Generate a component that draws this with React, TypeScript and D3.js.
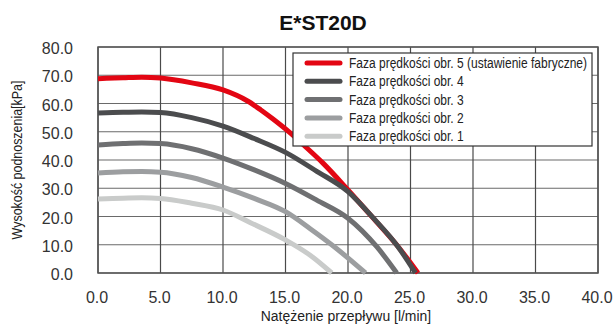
import React from "react";
import * as d3 from "d3";

const xTicks = [0, 5, 10, 15, 20, 25, 30, 35, 40];
const yTicks = [0, 10, 20, 30, 40, 50, 60, 70, 80];

const seriesNames = [
  "Faza prędkości obr. 5 (ustawienie fabryczne)",
  "Faza prędkości obr. 4",
  "Faza prędkości obr. 3",
  "Faza prędkości obr. 2",
  "Faza prędkości obr. 1",
];
const seriesColors = ["#e30613", "#4b4c4e", "#6f7072", "#9c9ea0", "#c9cbca"];

const flow5 = [0, 2, 3.5, 5, 7.5, 10, 12, 13, 14, 15.4, 16.6, 18, 20, 22, 24, 25.6];
const head5 = [68.8, 69.1, 69.3, 69.0, 67.3, 64.8, 60.8, 57.8, 54.5, 49.5, 44.7, 38.9, 29.4, 19.5, 9.4, 0];

const flow4 = [0, 2, 3.5, 5, 7.5, 10, 12.5, 15, 17.5, 20, 22, 24, 25.4];
const head4 = [56.6, 56.9, 57.0, 56.8, 55.0, 52.0, 47.6, 42.7, 36.0, 28.8, 19.6, 9.3, 0];

const flow3 = [0, 2, 3.5, 5, 7.5, 10, 12.5, 15, 17.5, 20, 22.3, 23.9];
const head3 = [45.3, 45.8, 46.0, 45.8, 44.0, 40.7, 36.5, 31.7, 25.8, 19.4, 9.3, 0];

const flow2 = [0, 2, 3.5, 5, 7.5, 10, 12.5, 15, 17, 18.9, 21.4];
const head2 = [35.4, 35.8, 35.9, 35.7, 33.8, 30.4, 26.4, 21.7, 15.6, 9.3, 0];

const flow1 = [0, 2, 3.5, 5, 7.5, 10, 12.2, 15, 17, 18.7];
const head1 = [26.2, 26.5, 26.6, 26.4, 24.7, 22.3, 17.8, 11.7, 6.2, 0];

const seriesFlows = [flow5, flow4, flow3, flow2, flow1];
const seriesHeads = [head5, head4, head3, head2, head1];

const W = 616;
const H = 324;
const M = { left: 98, right: 18, top: 47, bottom: 51 };
const SANS = "'Liberation Sans', Arial, Helvetica, sans-serif";
const CONDENSE = 0.8;

export default function App() {
  const x = d3.scaleLinear().domain([0, 40]).range([M.left, W - M.right]);
  const y = d3.scaleLinear().domain([0, 80]).range([H - M.bottom, M.top]);
  const line = d3
    .line<[number, number]>()
    .x((d) => x(d[0]))
    .y((d) => y(d[1]))
    .curve(d3.curveMonotoneX);

  const drawOrder = [4, 3, 2, 0, 1];
  const legendX = 293;
  const legendY = 53;
  const rowH = 18.3;

  return (
    <svg width={W} height={H} style={{ position: "absolute", left: 0, top: 0 }}>
      <rect x={0} y={0} width={W} height={H} fill="#fff" />
      <text x={323} y={30} textAnchor="middle" fontFamily={SANS} fontWeight="bold" fontSize={21} fill="#111">
        E*ST20D
      </text>
      {yTicks.map((t) => (
        <line key={"h" + t} x1={x(0)} x2={x(40)} y1={y(t)} y2={y(t)} stroke="#6a6a6a" strokeWidth={1.2} />
      ))}
      {xTicks.map((t) => (
        <line key={"v" + t} x1={x(t)} x2={x(t)} y1={y(0)} y2={y(80)} stroke="#4a4a4a" strokeWidth={1.2} />
      ))}
      <rect x={x(0)} y={y(80)} width={x(40) - x(0)} height={y(0) - y(80)} fill="none" stroke="#555" strokeWidth={1.5} />
      {drawOrder.map((i) => (
        <path
          key={"s" + i}
          d={line(seriesFlows[i].map((f, k) => [f, seriesHeads[i][k]] as [number, number])) || ""}
          fill="none"
          stroke={seriesColors[i]}
          strokeWidth={5}
          strokeLinecap="butt"
        />
      ))}
      {yTicks.map((t) => (
        <text key={"yl" + t} x={73} y={y(t) + 7} textAnchor="end" fontFamily={SANS} fontSize={16} fill="#333">
          {t.toFixed(1)}
        </text>
      ))}
      {xTicks.map((t) => (
        <text key={"xl" + t} x={x(t) - 1} y={303} textAnchor="middle" fontFamily={SANS} fontSize={16} fill="#333">
          {t.toFixed(1)}
        </text>
      ))}
      <text
        transform={`translate(346,321) scale(0.93,1)`}
        textAnchor="middle"
        fontFamily={SANS}
        fontSize={15}
        fill="#222"
      >
        Natężenie przepływu [l/min]
      </text>
      <text
        transform={`translate(22,160) rotate(-90) scale(0.83,1)`}
        textAnchor="middle"
        fontFamily={SANS}
        fontSize={15}
        fill="#222"
      >
        Wysokość podnoszenia[kPa]
      </text>
      <rect x={legendX} y={legendY} width={299} height={93} fill="#fff" stroke="#333" strokeWidth={1.2} />
      {seriesNames.map((name, i) => {
        const cy = legendY + 10 + i * rowH;
        return (
          <g key={"lg" + i}>
            <line x1={legendX + 14} x2={legendX + 47} y1={cy} y2={cy} stroke={seriesColors[i]} strokeWidth={5} strokeLinecap="round" />
            <text
              transform={`translate(${legendX + 56},${cy + 5}) scale(${CONDENSE},1)`}
              fontFamily={SANS}
              fontSize={15}
              fill="#222"
            >
              {name}
            </text>
          </g>
        );
      })}
    </svg>
  );
}
